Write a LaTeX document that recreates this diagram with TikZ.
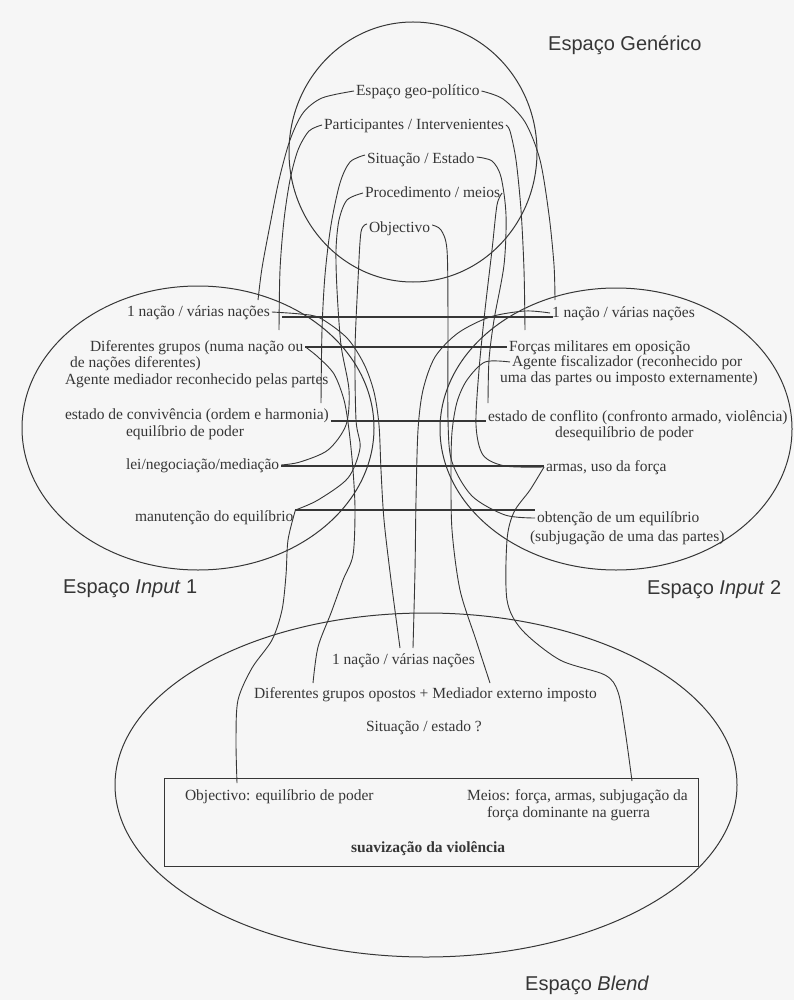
\documentclass[tikz,border=0pt]{standalone}
\usepackage{fontspec}
\setmainfont{Liberation Serif}
\setsansfont{Liberation Sans}
\usetikzlibrary{calc}
\definecolor{ink}{HTML}{363636}
\definecolor{paper}{HTML}{F6F6F6}
\begin{document}
\begin{tikzpicture}[x=1pt,y=-1pt,
  txt/.style={anchor=west, inner sep=0pt, outer sep=2pt, text=ink,
    text height=11pt, text depth=2pt, font=\fontsize{15.5}{17}\selectfont},
  lab/.style={anchor=west, inner sep=0pt, text=ink,
    font=\sffamily\fontsize{20}{22}\selectfont},
  space/.style={draw=ink, line width=1pt},
  conn/.style={draw=ink, line width=0.9pt},
  cross/.style={draw=ink, line width=2.3pt},
]
\fill[paper] (0,0) rectangle (794,1000);
\useasboundingbox (0,0) rectangle (794,1000);

% the four mental spaces
\draw[space] (413,152) ellipse [x radius=124, y radius=130];
\draw[space] (198,428) ellipse [x radius=176, y radius=142];
\draw[space] (616,429) ellipse [x radius=176, y radius=141];
\draw[space] (426,785) ellipse [x radius=311, y radius=172];
\draw[space] (164,778) rectangle (698,866);

% space labels
\node[lab] (lgen) at (548,45) {Espaço Genérico};
\node[lab] (lin1) at (63,589) {Espaço \textit{Input} 1};
\node[lab] (lin2) at (647,590) {Espaço \textit{Input} 2};
\node[lab] (lbl) at (525,985) {Espaço \textit{Blend}};

% generic space
\node[txt] (geo) at (354,91) {Espaço geo-político};
\node[txt] (part) at (322,125) {Participantes / Intervenientes};
\node[txt] (sit) at (365,159) {Situação / Estado};
\node[txt] (proc) at (363,193) {Procedimento / meios};
\node[txt] (obj) at (367,228) {Objectivo};

% input 1
\node[txt] (i1a) at (125,312) {1 nação / várias nações};
\node[txt] (i1b) at (88,347) {Diferentes grupos (numa nação ou};
\node[txt] (i1bb) at (68,363) {de nações diferentes)};
\node[txt] (i1c) at (63,380) {Agente mediador reconhecido pelas partes};
\node[txt] (i1d) at (63,415) {estado de convivência (ordem e harmonia)};
\node[txt] (i1dd) at (124,432) {equilíbrio de poder};
\node[txt] (i1f) at (124,465) {lei/negociação/mediação};
\node[txt] (i1g) at (133,517) {manutenção do equilíbrio};

% input 2
\node[txt] (i2a) at (550,313) {1 nação / várias nações};
\node[txt] (i2b) at (507,347) {Forças militares em oposição};
\node[txt] (i2c) at (510,362) {Agente fiscalizador (reconhecido por};
\node[txt] (i2cc) at (498,378) {uma das partes ou imposto externamente)};
\node[txt] (i2d) at (486,417) {estado de conflito (confronto armado, violência)};
\node[txt] (i2dd) at (553,433) {desequilíbrio de poder};
\node[txt] (i2f) at (544,467) {armas, uso da força};
\node[txt] (i2g) at (535,518) {obtenção de um equilíbrio};
\node[txt] (i2gg) at (528,537) {(subjugação de uma das partes)};

% blend
\node[txt] (b1) at (330,660) {1 nação / várias nações};
\node[txt] (b2) at (252,694) {Diferentes grupos opostos + Mediador externo imposto};
\node[txt] (b3) at (364,727) {Situação / estado ?};
\node[txt] (b4) at (183,796) {Objectivo: equilíbrio de poder};
\node[txt] (b5) at (465,796) {Meios: força, armas, subjugação da};
\node[txt] (b5b) at (485,813) {força dominante na guerra};
\node[txt, font=\bfseries\fontsize{15.5}{17}\selectfont] (b6) at (349,848) {suavização da violência};

% free ends of the projection lines
\coordinate (t1l) at (258,300);
\coordinate (t2l) at (279,330);
\coordinate (t3l) at (321,403);
\coordinate (t1r) at (555,300);
\coordinate (t2r) at (525,330);
\coordinate (t3r) at (488,403);
\coordinate (tb1a) at (400,648);
\coordinate (tb1b) at (413,648);
\coordinate (tb2a) at (313,683);
\coordinate (tb2b) at (490,683);
\coordinate (tb4) at (237,783);
\coordinate (tb5) at (632,781);

% attachment points beside the texts
\coordinate (sitW) at ([yshift=4pt]sit.west);
\coordinate (sitE) at ([yshift=2pt]sit.east);
\coordinate (objW) at ([yshift=4pt]obj.west);
\coordinate (objE) at ([yshift=3pt]obj.east);
\coordinate (h1a) at ([xshift=10pt,yshift=-5pt]i1a.east);
\coordinate (h1b) at ([xshift=3pt,yshift=-4pt]i2a.west);
\coordinate (h3a) at ([yshift=-6pt]i1d.east);
\coordinate (h3b) at ([yshift=-4pt]i2d.west);
\coordinate (h4a) at ([yshift=-1pt]i1f.east);
\coordinate (h4b) at ([yshift=1pt]i2f.west);
\coordinate (h5a) at ([yshift=7pt]i1g.east);
\coordinate (h5b) at ([yshift=8pt]i2g.west);

% cross-space mappings
\draw[cross] (h1a) -- (h1b);
\draw[cross] (i1b.east) -- (i2b.west);
\draw[cross] (h3a) -- (h3b);
\draw[cross] (h4a) -- (h4b);
\draw[cross] (h5a) -- (h5b);

% generic space -> input 1
\draw[conn] plot[smooth] coordinates {(geo.west) (322,98) (303,113) (290,140) (279,180) (270,225) (262,268) (t1l)};
\draw[conn] plot[smooth] coordinates {(part.west) (309,131) (298,150) (290,180) (284,220) (280,270) (t2l)};
\draw[conn] plot[smooth] coordinates {(sitW) (350,162) (340,183) (331,225) (325,275) (322,330) (t3l)};
\draw[conn] plot[smooth] coordinates {(proc.west) (347,200) (339,220) (336,250) (337,290) (341,345) (349,390) (346,425) (328,450) (300,462) (i1f.east)};
\draw[conn] plot[smooth] coordinates {(objW) (361,232) (358,280) (355,350) (356,420) (360,448) (348,478) (318,500) (h5a)};

% generic space -> input 2
\draw[conn] plot[smooth] coordinates {(geo.east) (503,99) (525,122) (540,160) (549,215) (554,265) (t1r)};
\draw[conn] plot[smooth] coordinates {(part.east) (510,131) (516,160) (521,210) (524,270) (t2r)};
\draw[conn] plot[smooth] coordinates {(sitE) (492,161) (501,177) (506,215) (504,265) (494,320) (489,360) (t3r)};
\draw[conn] plot[smooth] coordinates {(proc.east) (497,205) (492,250) (485,310) (479,370) (476,425) (483,455) (505,466) (i2f.west)};
\draw[conn] plot[smooth] coordinates {(objE) (441,230) (447,250) (448,320) (448,420) (452,462) (472,496) (505,515) (i2g.west)};

% input 1 -> blend
\draw[conn] plot[smooth] coordinates {(i1a.east) (300,314) (320,318) (347,338) (364,364) (374,392) (379,425) (381,470) (384,520) (391,580) (tb1a)};
\draw[conn] plot[smooth] coordinates {(i1b.east) (318,357) (334,374) (344,400) (349,430) (353,470) (355,510) (353,555) (343,580) (331,613) (318,647) (tb2a)};
\draw[conn] plot[smooth] coordinates {(h5a) (288,540) (286,575) (282,610) (272,640) (252,668) (238,700) (236,740) (tb4)};

% input 2 -> blend
\draw[conn] plot[smooth] coordinates {(i2a.west) (525,311) (490,317) (458,333) (435,357) (423,390) (418,430) (416,500) (415,570) (tb1b)};
\draw[conn] plot[smooth] coordinates {(i2c.west) (485,362) (467,380) (457,402) (452,432) (451,470) (452,530) (460,590) (476,640) (tb2b)};
\draw[conn] plot[smooth] coordinates {(i2f.west) (530,490) (514,512) (507,540) (507,600) (522,630) (560,660) (605,675) (618,692) (625,730) (tb5)};
\end{tikzpicture}
\end{document}
